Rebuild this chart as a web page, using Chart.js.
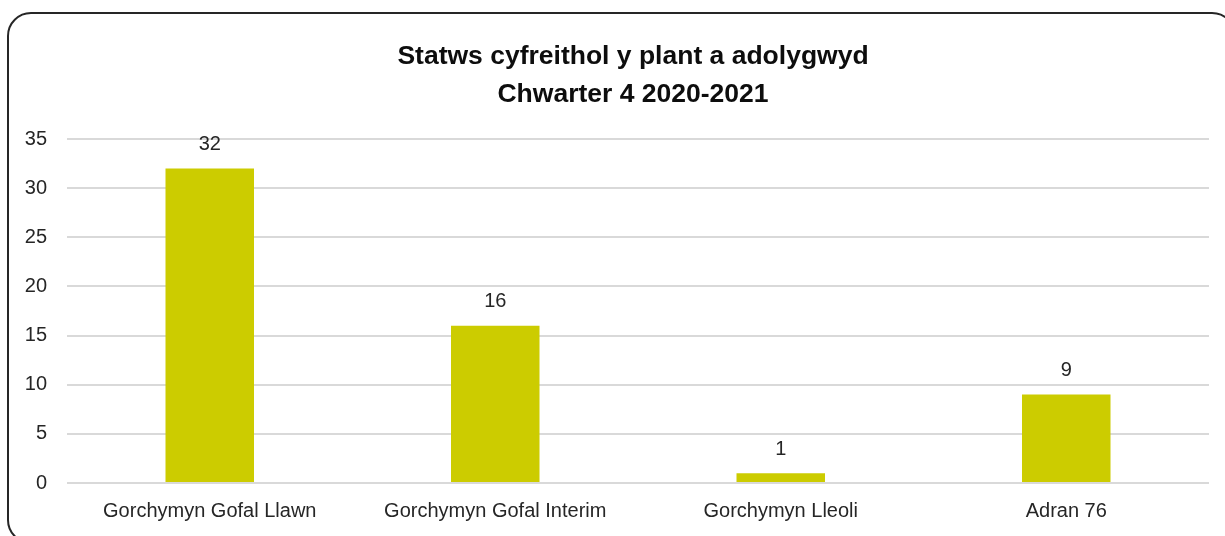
<!DOCTYPE html>
<html>
<head>
<meta charset="utf-8">
<script src="https://cdn.jsdelivr.net/npm/chart.js@4/dist/chart.umd.min.js"></script>
<style>
  html, body { margin: 0; padding: 0; background: #ffffff; overflow: hidden; }
  #frame { position: absolute; left: 7px; top: 12px; width: 1225px; height: 528px;
           border: 2.5px solid #262626; border-radius: 24px; background: #fff; }
  #wrap { position: absolute; left: 0; top: 0; width: 1225px; height: 536px; }
</style>
</head>
<body>
<div id="frame"></div>
<div id="wrap"><canvas id="c" width="1225" height="536"></canvas></div>
<script>
const titleLines = ['Statws cyfreithol y plant a adolygwyd', 'Chwarter 4 2020-2021'];
const categories = ['Gorchymyn Gofal Llawn', 'Gorchymyn Gofal Interim', 'Gorchymyn Lleoli', 'Adran 76'];
const values = [32, 16, 1, 9];
const yTicks = [0, 5, 10, 15, 20, 25, 30, 35];

const FONT = "'Liberation Sans Narrow', 'Arial Narrow', 'Liberation Sans', Arial, sans-serif";
const barColor = '#cccc00';

const valueLabels = {
  id: 'valueLabels',
  afterDatasetsDraw(chart) {
    const ctx = chart.ctx;
    const meta = chart.getDatasetMeta(0);
    ctx.save();
    ctx.font = '20px ' + FONT;
    ctx.fillStyle = '#262626';
    ctx.textAlign = 'center';
    ctx.textBaseline = 'middle';
    meta.data.forEach((bar, i) => {
      ctx.fillText(String(values[i]), bar.x, bar.y - 24);
    });
    ctx.restore();
  }
};

// centre the title over the framed box rather than the canvas
const titleShift = {
  id: 'titleShift',
  afterLayout(chart) {
    if (chart.titleBlock) { chart.titleBlock.left += 57; }
  }
};

new Chart(document.getElementById('c'), {
  type: 'bar',
  data: {
    labels: categories,
    datasets: [{
      data: values,
      backgroundColor: barColor,
      borderWidth: 0,
      categoryPercentage: 1.0,
      barPercentage: 0.31
    }]
  },
  options: {
    responsive: false,
    animation: false,
    devicePixelRatio: 1,
    layout: { padding: { left: 0, right: 16, top: 0, bottom: 0 } },
    plugins: {
      legend: { display: false },
      tooltip: { enabled: false },
      title: {
        display: true,
        text: titleLines,
        color: '#0d0d0d',
        font: { family: FONT, size: 26.5, weight: 'bold', lineHeight: '38px' },
        padding: { top: 38, bottom: 25 }
      }
    },
    scales: {
      x: {
        grid: { display: false, drawTicks: false },
        border: { display: false },
        ticks: { color: '#262626', font: { family: FONT, size: 20 }, padding: 16, maxRotation: 0 },
        afterFit(scale) { scale.height = 53; }
      },
      y: {
        min: 0,
        max: 35,
        afterBuildTicks(scale) { scale.ticks = yTicks.map(v => ({ value: v })); },
        grid: { color: '#d9d9d9', lineWidth: 2, drawTicks: false },
        border: { display: false },
        ticks: { color: '#262626', font: { family: FONT, size: 20 }, padding: 20 },
        afterFit(scale) { scale.width = 67; }
      }
    }
  },
  plugins: [valueLabels, titleShift]
});
</script>
</body>
</html>
